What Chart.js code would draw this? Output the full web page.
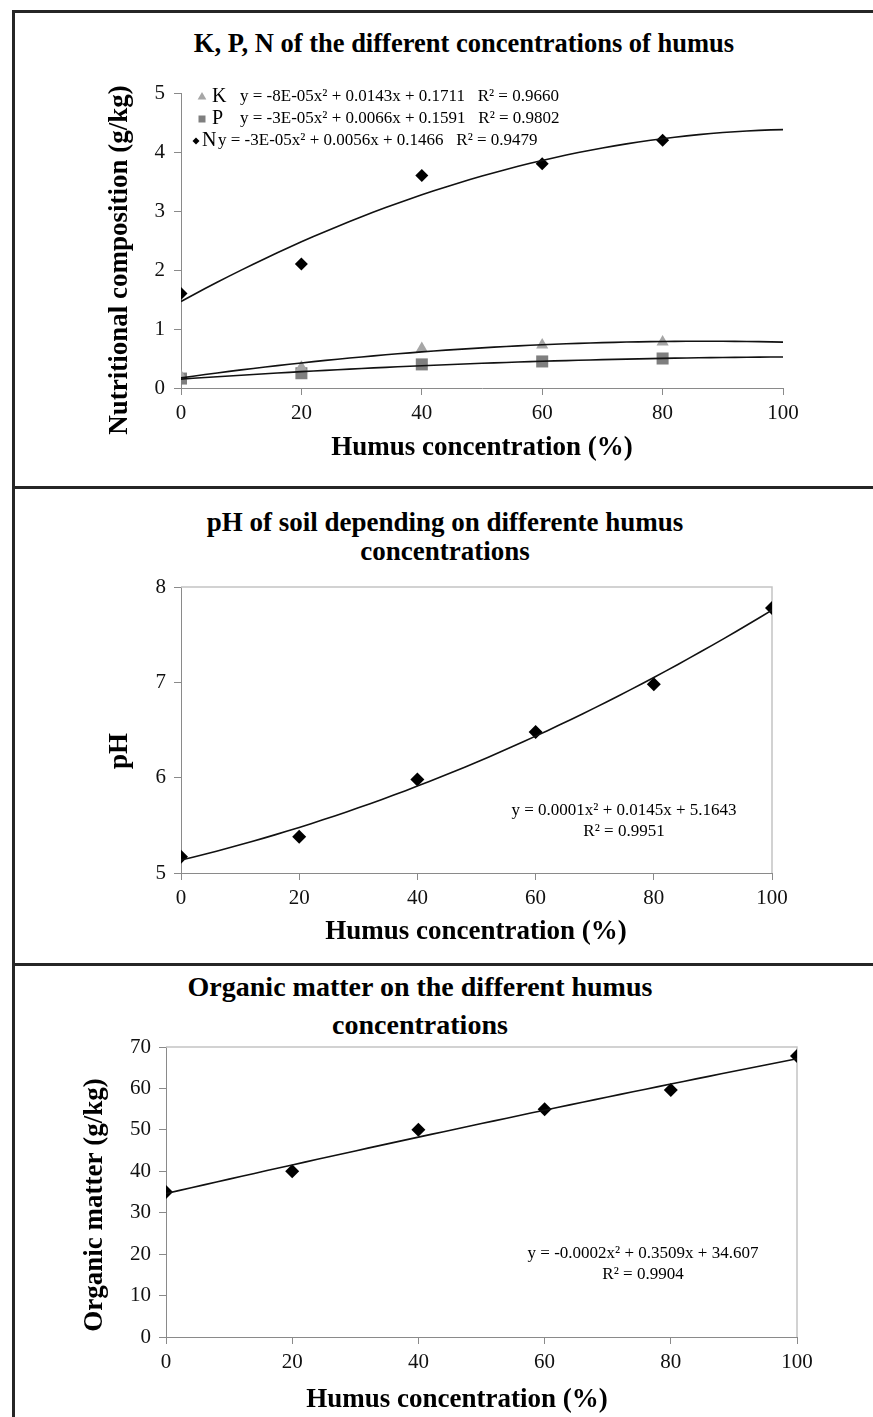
<!DOCTYPE html>
<html>
<head>
<meta charset="utf-8">
<script src="https://cdn.jsdelivr.net/npm/chart.js@4.4.1/dist/chart.umd.min.js"></script>
<style>
body { margin: 0; background: #fff; width: 873px; height: 1417px; position: relative; overflow: hidden; font-family: "Liberation Serif", serif; }
.line { position: absolute; background: #262626; }
.title { position: absolute; font-weight: bold; text-align: center; white-space: nowrap; transform: translateX(-50%); color: #000; }
canvas { position: absolute; left: 15px; }
</style>
</head>
<body>
<div class="line" style="left:12px;top:10px;width:861px;height:3px"></div>
<div class="line" style="left:12px;top:10px;width:3px;height:1407px"></div>
<div class="line" style="left:12px;top:486px;width:861px;height:3px"></div>
<div class="line" style="left:12px;top:963px;width:861px;height:3px"></div>

<div class="title" style="left:464px;top:27px;font-size:26.5px;line-height:32px">K, P, N of the different concentrations of humus</div>
<div class="title" style="left:445px;top:508px;font-size:27px;line-height:29px">pH of soil depending on differente humus<br>concentrations</div>
<div class="title" style="left:420px;top:968px;font-size:28px;line-height:38px">Organic matter on the different humus<br>concentrations</div>

<canvas id="c1" width="858" height="473" style="top:13px"></canvas>
<canvas id="c2" width="858" height="474" style="top:489px"></canvas>
<canvas id="c3" width="858" height="451" style="top:966px"></canvas>

<script>
// data
var humus = [0, 20, 40, 60, 80];
var kValues = [0.2, 0.35, 0.67, 0.73, 0.78];
var pValues = [0.16, 0.25, 0.40, 0.45, 0.50];
var nValues = [1.6, 2.1, 3.6, 3.8, 4.2];

var humusPh = [0, 20, 40, 60, 80, 100];
var phValues = [5.17, 5.38, 5.98, 6.48, 6.98, 7.78];

var humusOm = [0, 20, 40, 60, 80, 100];
var omValues = [35, 40, 50, 55, 59.6, 67.8];

var xTicks = [0, 20, 40, 60, 80, 100];
var nutTicks = [0, 1, 2, 3, 4, 5];
var phTicks = [5, 6, 7, 8];
var omTicks = [0, 10, 20, 30, 40, 50, 60, 70];

var kEq = 'y = -8E-05x² + 0.0143x + 0.1711   R² = 0.9660';
var pEq = 'y = -3E-05x² + 0.0066x + 0.1591   R² = 0.9802';
var nEq = 'y = -3E-05x² + 0.0056x + 0.1466   R² = 0.9479';
var phEq = ['y = 0.0001x² + 0.0145x + 5.1643', 'R² = 0.9951'];
var omEq = ['y = -0.0002x² + 0.3509x + 34.607', 'R² = 0.9904'];

var xTitle = 'Humus concentration (%)';

var serif = '"Liberation Serif", "Times New Roman", serif';
var axisColor = '#8a8a8a';

function points(xs, ys) {
    return xs.map(function (x, i) { return { x: x, y: ys[i] }; });
}

// least squares quadratic, like the excel trendline
function quadFit(xs, ys) {
    var s = [0, 0, 0, 0, 0], t = [0, 0, 0];
    for (var i = 0; i < xs.length; i++) {
        for (var k = 0; k < 5; k++) s[k] += Math.pow(xs[i], k);
        for (var k = 0; k < 3; k++) t[k] += Math.pow(xs[i], k) * ys[i];
    }
    var m = [[s[4], s[3], s[2]], [s[3], s[2], s[1]], [s[2], s[1], s[0]]];
    var r = [t[2], t[1], t[0]];
    function det(a) {
        return a[0][0] * (a[1][1] * a[2][2] - a[1][2] * a[2][1])
             - a[0][1] * (a[1][0] * a[2][2] - a[1][2] * a[2][0])
             + a[0][2] * (a[1][0] * a[2][1] - a[1][1] * a[2][0]);
    }
    var d = det(m), c = [];
    for (var j = 0; j < 3; j++) {
        var mm = m.map(function (row, i) { var rr = row.slice(); rr[j] = r[i]; return rr; });
        c.push(det(mm) / d);
    }
    return function (x) { return c[0] * x * x + c[1] * x + c[2]; };
}

function trend(xs, ys, xmax) {
    var f = quadFit(xs, ys), out = [];
    for (var x = 0; x <= xmax; x += 2) out.push({ x: x, y: f(x) });
    return out;
}

function trendSet(xs, ys) {
    return {
        data: trend(xs, ys, 100), showLine: true, pointRadius: 0,
        borderColor: '#111', borderWidth: 1.6, order: 0
    };
}

function markSet(xs, ys, style, r, color) {
    return {
        data: points(xs, ys), pointStyle: style, pointRadius: r,
        backgroundColor: color, borderColor: color, borderWidth: 0, order: 1
    };
}

function drawMark(ctx, m) {
    ctx.fillStyle = m.color;
    ctx.beginPath();
    if (m.shape === 'triangle') {
        ctx.moveTo(m.x, m.y - m.r);
        ctx.lineTo(m.x + m.r * 0.87, m.y + m.r * 0.5);
        ctx.lineTo(m.x - m.r * 0.87, m.y + m.r * 0.5);
    } else if (m.shape === 'rect') {
        ctx.rect(m.x - m.r, m.y - m.r, 2 * m.r, 2 * m.r);
    } else {
        ctx.moveTo(m.x, m.y - m.r);
        ctx.lineTo(m.x + m.r, m.y);
        ctx.lineTo(m.x, m.y + m.r);
        ctx.lineTo(m.x - m.r, m.y);
    }
    ctx.closePath();
    ctx.fill();
}

// equations, legend rows and axis titles
var notes = {
    id: 'notes',
    afterDatasetsDraw: function (chart, args, opts) {
        var ctx = chart.ctx;
        ctx.save();
        ctx.textBaseline = 'middle';
        (opts.items || []).forEach(function (it) {
            ctx.save();
            ctx.font = it.font;
            ctx.fillStyle = '#000';
            ctx.textAlign = it.align || 'left';
            ctx.translate(it.x, it.y);
            if (it.rotate) ctx.rotate(-Math.PI / 2);
            ctx.fillText(it.text, 0, 0);
            ctx.restore();
        });
        (opts.marks || []).forEach(function (m) { drawMark(ctx, m); });
        ctx.restore();
    }
};

// light top/right edges of the plot box
var frame = {
    id: 'frame',
    beforeDatasetsDraw: function (chart, args, opts) {
        if (!opts.show) return;
        var a = chart.chartArea, ctx = chart.ctx;
        ctx.save();
        ctx.strokeStyle = '#c4c4c4';
        ctx.lineWidth = 1.5;
        ctx.beginPath();
        ctx.moveTo(a.left, a.top);
        ctx.lineTo(a.right, a.top);
        ctx.lineTo(a.right, a.bottom);
        ctx.stroke();
        ctx.restore();
    }
};

function axis(ticks, min, max, size, pad) {
    return {
        type: 'linear', min: min, max: max,
        afterBuildTicks: function (s) { s.ticks = ticks.map(function (v) { return { value: v }; }); },
        afterFit: function (s) { if (s.isHorizontal()) s.height = size; else s.width = size; },
        grid: { drawOnChartArea: false, drawTicks: true, tickLength: 7, color: axisColor, lineWidth: 1 },
        border: { color: axisColor, width: 1 },
        ticks: { color: '#111', padding: pad, font: { family: serif, size: 21 } },
        title: { display: false }
    };
}

function makeChart(id, datasets, xAxis, yAxis, padding, extra) {
    return new Chart(document.getElementById(id), {
        type: 'scatter',
        data: { datasets: datasets },
        plugins: [notes, frame],
        options: {
            responsive: false,
            animation: false,
            layout: { padding: padding },
            scales: { x: xAxis, y: yAxis },
            plugins: {
                legend: { display: false },
                tooltip: { enabled: false },
                title: { display: false },
                notes: extra.notes,
                frame: { show: extra.frame }
            }
        }
    });
}

var eqFont = '17px ' + serif;
var letterFont = '20px ' + serif;
var axisFont = 'bold 27px ' + serif;

makeChart('c1', [
    trendSet(humus, kValues),
    trendSet(humus, pValues),
    trendSet(humus, nValues),
    markSet(humus, kValues, 'triangle', 7, '#a6a6a6'),
    markSet(humus, pValues, 'rect', 8.5, '#7f7f7f'),
    markSet(humus, nValues, 'rectRot', 6.5, '#000')
],
    axis(xTicks, 0, 100, 76, 6),
    axis(nutTicks, 0, 5, 77, 9),
    { top: 80, left: 89, right: 90, bottom: 22 },
    {
        frame: false,
        notes: {
            items: [
                { text: 'K', x: 197, y: 84, font: letterFont },
                { text: kEq, x: 225, y: 84, font: eqFont },
                { text: 'P', x: 197, y: 106, font: letterFont },
                { text: pEq, x: 225, y: 106, font: eqFont },
                { text: 'N', x: 187, y: 128, font: letterFont },
                { text: nEq, x: 203, y: 128, font: eqFont },
                { text: xTitle, x: 467, y: 435, font: axisFont, align: 'center' },
                { text: 'Nutritional composition (g/kg)', x: 105, y: 247, font: axisFont, align: 'center', rotate: true }
            ],
            marks: [
                { shape: 'triangle', x: 187, y: 84, r: 5, color: '#a6a6a6' },
                { shape: 'rect', x: 187, y: 106, r: 3.5, color: '#7f7f7f' },
                { shape: 'diamond', x: 181, y: 128, r: 3.5, color: '#000' }
            ]
        }
    });

makeChart('c2', [
    trendSet(humusPh, phValues),
    markSet(humusPh, phValues, 'rectRot', 7, '#000')
],
    axis(xTicks, 0, 100, 75, 6),
    axis(phTicks, 5, 8, 77, 8),
    { top: 98, left: 89, right: 101, bottom: 15 },
    {
        frame: true,
        notes: {
            items: [
                { text: phEq[0], x: 609, y: 322, font: eqFont, align: 'center' },
                { text: phEq[1], x: 609, y: 343, font: eqFont, align: 'center' },
                { text: xTitle, x: 461, y: 443, font: axisFont, align: 'center' },
                { text: 'pH', x: 105, y: 262, font: axisFont, align: 'center', rotate: true }
            ]
        }
    });

makeChart('c3', [
    trendSet(humusOm, omValues),
    markSet(humusOm, omValues, 'rectRot', 7, '#000')
],
    axis(xTicks, 0, 100, 79, 6),
    axis(omTicks, 0, 70, 87, 8),
    { top: 81, left: 64, right: 76, bottom: 1 },
    {
        frame: true,
        notes: {
            items: [
                { text: omEq[0], x: 628, y: 288, font: eqFont, align: 'center' },
                { text: omEq[1], x: 628, y: 309, font: eqFont, align: 'center' },
                { text: xTitle, x: 442, y: 434, font: axisFont, align: 'center' },
                { text: 'Organic matter (g/kg)', x: 80, y: 239, font: axisFont, align: 'center', rotate: true }
            ]
        }
    });
</script>
</body>
</html>
